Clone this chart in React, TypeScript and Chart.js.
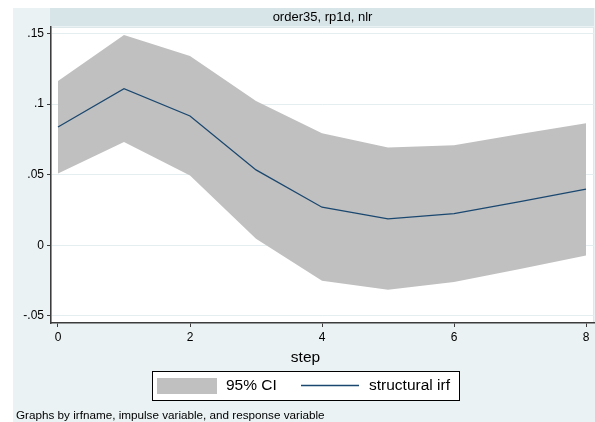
import React, { useEffect, useRef } from "react";
import { Chart, registerables } from "chart.js";

Chart.register(...registerables);

const steps = [0, 1, 2, 3, 4, 5, 6, 7, 8];
const irf = [0.0838, 0.1109, 0.0916, 0.0534, 0.027, 0.0187, 0.0225, 0.031, 0.0398];
const ciUpper = [0.1164, 0.1489, 0.1341, 0.1022, 0.0794, 0.0692, 0.0709, 0.0789, 0.0865];
const ciLower = [0.0508, 0.0732, 0.0494, 0.0046, -0.0251, -0.0315, -0.026, -0.0168, -0.0072];
const yTicks = [-0.05, 0, 0.05, 0.1, 0.15];
const xTicks = [0, 2, 4, 6, 8];
const panelTitle = "order35, rp1d, nlr";
const xTitle = "step";
const legendLabels = ["95% CI", "structural irf"];
const note = "Graphs by irfname, impulse variable, and response variable";

const FONT = '"Liberation Sans", Arial, sans-serif';
const BG = "#eaf2f3";
const STRIP = "#d7e4e8";
const BAND = "#c0c0c0";
const NAVY = "#1a476f";
const AXIS = "#3c3c3c";

const fmt = (v: number) => {
  if (Math.abs(v) < 1e-12) return "0";
  const s = String(Math.round(Math.abs(v) * 1000) / 1000).replace(/^0/, "");
  return (v < 0 ? "-" : "") + s;
};

const stataPlugin = {
  id: "stataFrame",
  beforeDraw(chart: any) {
    const { ctx, chartArea: a } = chart;
    ctx.save();
    ctx.fillStyle = "#ffffff";
    ctx.fillRect(0, 0, 595, 422);
    ctx.fillStyle = BG;
    ctx.fillRect(13, 8, 582, 414);
    // strip
    ctx.fillStyle = STRIP;
    ctx.fillRect(50, 8, 544, 18);
    ctx.fillStyle = "#000";
    ctx.font = `13px ${FONT}`;
    ctx.textAlign = "center";
    ctx.textBaseline = "middle";
    ctx.fillText(panelTitle, (a.left + a.right) / 2, 17.5);
    // plot region
    ctx.fillStyle = "#ffffff";
    ctx.fillRect(a.left, a.top, a.right - a.left, a.bottom - a.top);
    ctx.strokeStyle = "#dde8eb";
    ctx.lineWidth = 1;
    ctx.strokeRect(a.left + 0.5, a.top + 0.5, a.right - a.left - 1, a.bottom - a.top - 1);
    ctx.restore();
  },
  afterDraw(chart: any) {
    const { ctx } = chart;
    ctx.save();
    // axis title
    ctx.fillStyle = "#000";
    ctx.font = `15.5px ${FONT}`;
    ctx.textAlign = "center";
    ctx.textBaseline = "middle";
    ctx.fillText(xTitle, 305.5, 358);
    // legend
    ctx.fillStyle = "#fff";
    ctx.fillRect(152, 372, 307, 29);
    ctx.strokeStyle = "#000";
    ctx.lineWidth = 1;
    ctx.strokeRect(152.5, 371.5, 307, 29);
    ctx.fillStyle = BAND;
    ctx.fillRect(157, 378, 60, 16);
    ctx.fillStyle = "#000";
    ctx.textAlign = "left";
    ctx.fillText(legendLabels[0], 226, 386);
    ctx.strokeStyle = NAVY;
    ctx.lineWidth = 1.3;
    ctx.beginPath();
    ctx.moveTo(301, 385.5);
    ctx.lineTo(359, 385.5);
    ctx.stroke();
    ctx.fillText(legendLabels[1], 369, 386);
    // note
    ctx.font = `11.7px ${FONT}`;
    ctx.fillText(note, 16, 415.5);
    ctx.restore();
  },
};

export default function App() {
  const ref = useRef<HTMLCanvasElement | null>(null);
  useEffect(() => {
    if (!ref.current) return;
    const chart = new Chart(ref.current, {
      type: "line",
      data: {
        datasets: [
          {
            label: legendLabels[1],
            data: steps.map((s, i) => ({ x: s, y: irf[i] })),
            borderColor: NAVY,
            borderWidth: 1.3,
            pointRadius: 0,
            fill: false,
            tension: 0,
            order: 0,
          },
          {
            label: legendLabels[0],
            data: steps.map((s, i) => ({ x: s, y: ciUpper[i] })),
            borderColor: "rgba(0,0,0,0)",
            borderWidth: 0,
            backgroundColor: BAND,
            pointRadius: 0,
            fill: "+1",
            tension: 0,
            order: 1,
          },
          {
            label: "lower",
            data: steps.map((s, i) => ({ x: s, y: ciLower[i] })),
            borderColor: "rgba(0,0,0,0)",
            borderWidth: 0,
            pointRadius: 0,
            fill: false,
            tension: 0,
            order: 2,
          },
        ],
      },
      options: {
        responsive: false,
        animation: false,
        devicePixelRatio: 1,
        layout: { padding: { left: 0, right: 1, top: 27, bottom: 0 } },
        plugins: { legend: { display: false }, tooltip: { enabled: false }, title: { display: false } },
        scales: {
          x: {
            type: "linear",
            min: -0.106,
            max: 8.121,
            afterBuildTicks: (s: any) => {
              s.ticks = xTicks.map((v) => ({ value: v }));
            },
            afterFit: (s: any) => {
              s.height = 99;
            },
            grid: { drawOnChartArea: false, drawTicks: true, tickLength: 4, tickColor: AXIS },
            border: { display: true, color: AXIS, width: 1.5 },
            ticks: {
              font: { size: 12, family: FONT },
              color: "#000",
              padding: 3,
              maxRotation: 0,
              autoSkip: false,
              callback: (v: any) => String(v),
            },
          },
          y: {
            type: "linear",
            min: -0.055,
            max: 0.1546,
            afterBuildTicks: (s: any) => {
              s.ticks = yTicks.map((v) => ({ value: v }));
            },
            afterFit: (s: any) => {
              s.width = 51;
            },
            grid: { color: "#e4edef", lineWidth: 1, drawTicks: true, tickLength: 4, tickColor: AXIS },
            border: { display: true, color: AXIS, width: 1.5 },
            ticks: {
              font: { size: 12, family: FONT },
              color: "#000",
              padding: 3,
              autoSkip: false,
              callback: (v: any) => fmt(Number(v)),
            },
          },
        },
      },
      plugins: [stataPlugin],
    } as any);
    return () => chart.destroy();
  }, []);
  return (
    <div style={{ position: "fixed", left: 0, top: 0, width: 595, height: 422 }}>
      <canvas ref={ref} width={595} height={422} style={{ display: "block", width: 595, height: 422 }} />
    </div>
  );
}
